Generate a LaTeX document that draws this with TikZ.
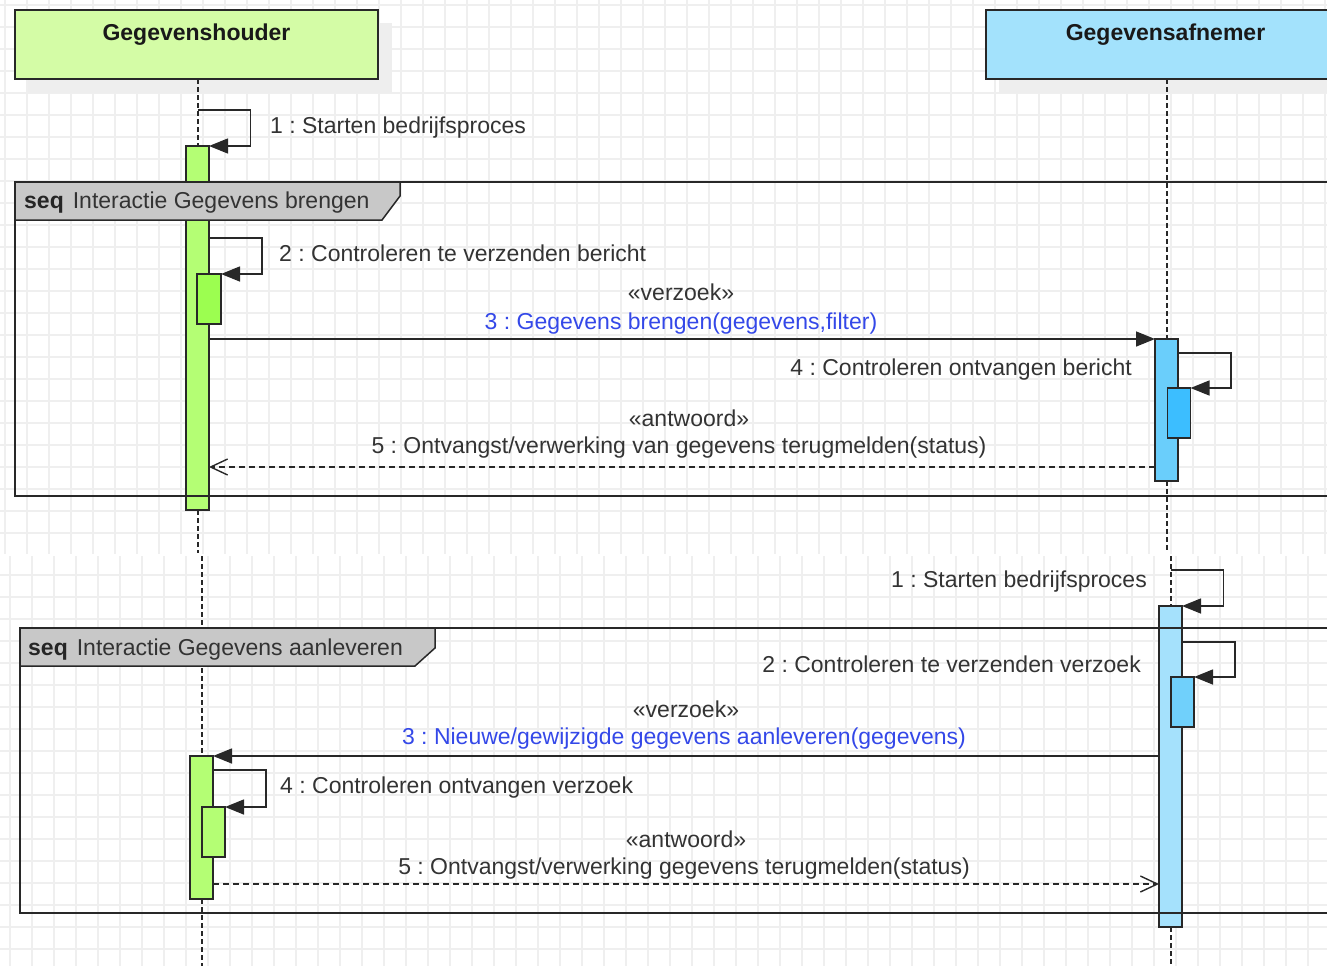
\documentclass[tikz,border=0pt]{standalone}
\usepackage{fontspec}
\setmainfont{Liberation Sans}
\usetikzlibrary{arrows.meta,backgrounds}
\frenchspacing

\definecolor{gridgray}{RGB}{239,239,239}
\definecolor{shadowgray}{RGB}{238,238,238}
\definecolor{ink}{RGB}{51,51,51}
\definecolor{linegray}{RGB}{40,40,40}
\definecolor{hdrgreen}{RGB}{212,252,166}
\definecolor{hdrblue}{RGB}{163,226,252}
\definecolor{actgreen}{RGB}{180,254,116}
\definecolor{actgreendark}{RGB}{156,254,80}
\definecolor{actblue}{RGB}{106,206,251}
\definecolor{actbluedark}{RGB}{60,190,255}
\definecolor{actbluelight}{RGB}{165,225,252}
\definecolor{actbluemid}{RGB}{112,208,251}
\definecolor{framegray}{RGB}{200,200,200}
\definecolor{opblue}{RGB}{52,72,232}

\tikzset{
  gridline/.style={draw=gridgray, line width=1.2pt},
  lbl/.style={font=\fontsize{23}{28}\selectfont, text=ink, inner sep=0pt},
  hdrbox/.style={draw=linegray, line width=1.5pt, minimum width=363pt, minimum height=69pt,
    inner sep=0pt, outer sep=0pt, anchor=north west},
  hdrtext/.style={font=\fontsize{23}{28}\selectfont\bfseries, text=black!90, inner sep=0pt, anchor=base},
  act/.style={draw=linegray, line width=1.3pt, inner sep=0pt, outer sep=0pt, anchor=north west,
    minimum width=23pt},
  lifeline/.style={draw=linegray, line width=2pt, dash pattern=on 4.5pt off 3.5pt},
  frameline/.style={draw=linegray, line width=1.5pt},
  call/.style={draw=linegray, line width=1.5pt, -{Triangle[length=19pt,width=15pt]}},
  reply/.style={draw=linegray, line width=1.4pt, dash pattern=on 6pt off 4pt,
    -{Straight Barb[length=17pt,width=16pt,line width=1.4pt]}},
}

\begin{document}
\begin{tikzpicture}[x=1pt,y=-1pt]
\path[use as bounding box] (0,0) rectangle (1327,966);
\clip (0,0) rectangle (1327,966);

% message levels
\coordinate (topend) at (0,553);
\coordinate (botstart) at (0,556);
\coordinate (botend) at (0,966);
\coordinate (m1) at (0,110);
\coordinate (m2) at (0,238);
\coordinate (m4) at (0,353);
\coordinate (m5) at (0,467);
\coordinate (n1) at (0,570);
\coordinate (n2) at (0,642);
\coordinate (n4) at (0,770);
\coordinate (n5) at (0,884);

% lifeline heads
\node[hdrbox, fill=hdrgreen] (h1) at (15,10) {};
\node[hdrbox, fill=hdrblue] (h2) at (986,10) {};
\node[hdrtext] at ([yshift=-31pt]h1.north) {Gegevenshouder};
\node[hdrtext] at ([xshift=-2pt,yshift=-31pt]h2.north) {Gegevensafnemer};

% activation bars
\node[act, fill=actgreen, minimum height=364pt] (a1) at (186,146) {};
\node[act, fill=actgreendark, minimum width=24pt, minimum height=50pt] (b1) at (197,274) {};
\node[act, fill=actblue, minimum height=142pt] (a2) at (1155,339) {};
\node[act, fill=actbluedark, minimum height=50pt] (b2) at (1167.5,388) {};
\node[act, fill=actgreen, minimum height=143pt] (a3) at (190,756) {};
\node[act, fill=actgreen, minimum height=50pt] (b3) at (202,807) {};
\node[act, fill=actbluelight, minimum height=321pt] (a4) at (1159,606) {};
\node[act, fill=actbluemid, minimum height=50pt] (b4) at (1171,677) {};

\begin{scope}[on background layer]
  % grid of the upper and lower sheet
  \foreach \gx in {5,27,...,1327} \draw[gridline] (\gx,0) -- (\gx,554);
  \foreach \gy in {5,27,...,554} \draw[gridline] (0,\gy) -- (1327,\gy);
  \foreach \gx in {10,32,...,1327} \draw[gridline] (\gx,556) -- (\gx,966);
  \foreach \gy in {575,597,...,966} \draw[gridline] (0,\gy) -- (1327,\gy);
  % header shadows
  \fill[shadowgray] (28,23) rectangle (392,93);
  \fill[shadowgray] (999,23) rectangle (1340,93);
  % lifelines
  \draw[lifeline] (a1.north |- h1.south) -- (a1.north);
  \draw[lifeline] (a1.south) -- (a1.south |- topend);
  \draw[lifeline] (a2.north |- h2.south) -- (a2.north);
  \draw[lifeline] (a2.south) -- (a2.south |- topend);
  \draw[lifeline] (a3.north |- botstart) -- (a3.north);
  \draw[lifeline] (a3.south) -- (a3.south |- botend);
  \draw[lifeline] (a4.north |- botstart) -- (a4.north);
  \draw[lifeline] (a4.south) -- (a4.south |- botend);
\end{scope}

% combined fragments
\draw[frameline] (1340,182) -- (15,182) -- (15,496) -- (1340,496);
\draw[frameline, fill=framegray] (15,182) -- (400,182) -- (400,196) -- (382,220) -- (15,220) -- cycle;
\node[lbl, anchor=base west] at (24,208.5) {\textbf{\color{black!85}seq}\hspace{9pt}Interactie Gegevens brengen};

\draw[frameline] (1340,628) -- (20,628) -- (20,913) -- (1340,913);
\draw[frameline, fill=framegray] (20,628) -- (435,628) -- (435,648) -- (415,666) -- (20,666) -- cycle;
\node[lbl, anchor=base west] at (28,655) {\textbf{\color{black!85}seq}\hspace{9pt}Interactie Gegevens aanleveren};

% messages: Gegevens brengen
\draw[call] (a1.north |- m1) -- ++(53,0) |- (a1.north east);
\draw[call] (a1.east |- m2) -- ++(53,0) |- (b1.north east);
\draw[call] (a1.east |- a2.north) -- (a2.north west);
\draw[call] (a2.east |- m4) -- ++(53,0) |- (b2.north east);
\draw[reply] (a2.west |- m5) -- (a1.east |- m5);

\node[lbl, anchor=base west] at (270,133) {1 : Starten bedrijfsproces};
\node[lbl, anchor=base west] at (279,261) {2 : Controleren te verzenden bericht};
\node[lbl, anchor=base] at (681,300) {«verzoek»};
\node[lbl, anchor=base, text=opblue] at (681,329) {3 : Gegevens brengen(gegevens,filter)};
\node[lbl, anchor=base east] at (1132,375) {4 : Controleren ontvangen bericht};
\node[lbl, anchor=base] at (689,426) {«antwoord»};
\node[lbl, anchor=base] at (679,453) {5 : Ontvangst/verwerking van gegevens terugmelden(status)};

% messages: Gegevens aanleveren
\draw[call] (a4.north |- n1) -- ++(53,0) |- (a4.north east);
\draw[call] (a4.east |- n2) -- ++(53,0) |- (b4.north east);
\draw[call] (a4.west |- a3.north) -- (a3.north east);
\draw[call] (a3.east |- n4) -- ++(53,0) |- (b3.north east);
\draw[reply] (a3.east |- n5) -- (a4.west |- n5);

\node[lbl, anchor=base east] at (1147,587) {1 : Starten bedrijfsproces};
\node[lbl, anchor=base east] at (1141,672) {2 : Controleren te verzenden verzoek};
\node[lbl, anchor=base] at (686,717) {«verzoek»};
\node[lbl, anchor=base, text=opblue] at (684,744) {3 : Nieuwe/gewijzigde gegevens aanleveren(gegevens)};
\node[lbl, anchor=base west] at (280,793) {4 : Controleren ontvangen verzoek};
\node[lbl, anchor=base] at (686,847) {«antwoord»};
\node[lbl, anchor=base] at (684,874) {5 : Ontvangst/verwerking gegevens terugmelden(status)};
\end{tikzpicture}
\end{document}
